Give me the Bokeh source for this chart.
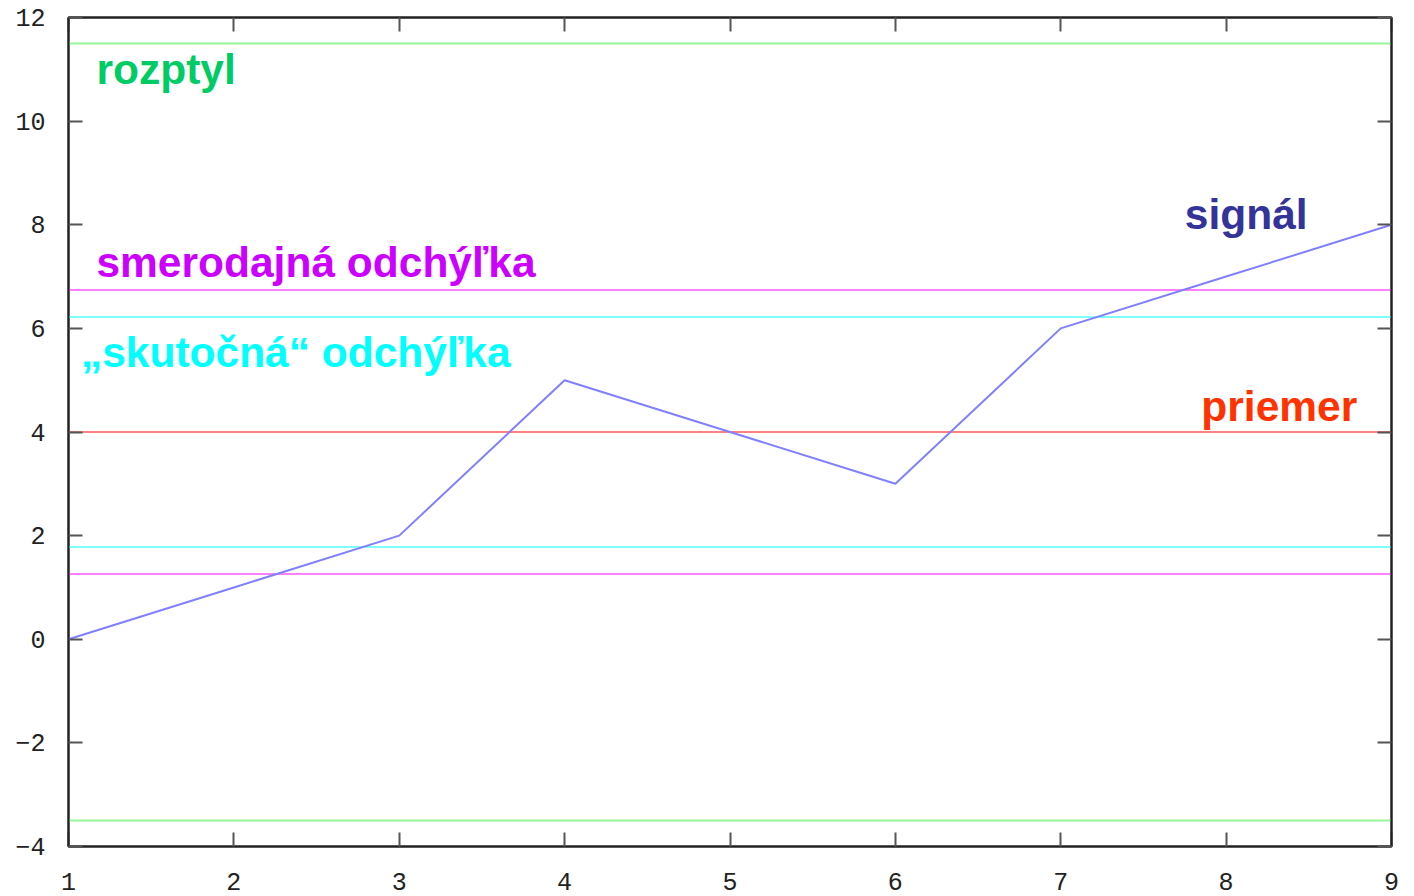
from bokeh.plotting import figure
from bokeh.models import Range1d, LinearAxis, FixedTicker, Label, CustomJSTickFormatter
from bokeh.embed import file_html
from bokeh.resources import INLINE

# data
x_vals = [1, 2, 3, 4, 5, 6, 7, 8, 9]
signal = [0, 1, 2, 5, 4, 3, 6, 7, 8]
priemer = 4.0
smer_odch = [6.74, 1.26]
skut_odch = [6.22, 1.78]
rozptyl = [11.5, -3.5]
x_ticks = [1, 2, 3, 4, 5, 6, 7, 8, 9]
y_ticks = [-4, -2, 0, 2, 4, 6, 8, 10, 12]

labels = [
    ("rozptyl", 1.169, 10.99, "#00cc66"),
    ("smerodajná odchýľka", 1.169, 7.27, "#cc00ff"),
    ("„skutočná“ odchýľka", 1.075, 5.53, "#00ffff"),
    ("signál", 7.75, 8.2, "#333399"),
    ("priemer", 7.85, 4.5, "#ff3300"),
]

p = figure(width=1414, height=896, output_backend="svg", toolbar_location=None,
           x_range=Range1d(1, 9), y_range=Range1d(-4, 12),
           min_border_left=68, min_border_right=23, min_border_top=17, min_border_bottom=50)
p.xgrid.visible = False
p.ygrid.visible = False
p.outline_line_color = "#222222"
p.outline_line_width = 2
p.background_fill_color = "white"
p.border_fill_color = "white"

for v in rozptyl:
    p.line([1, 9], [v, v], line_color="#99f599", line_width=2)
for v in smer_odch:
    p.line([1, 9], [v, v], line_color="#ff80ff", line_width=2)
for v in skut_odch:
    p.line([1, 9], [v, v], line_color="#80ffff", line_width=2)
p.line([1, 9], [priemer, priemer], line_color="#ff8080", line_width=2)
p.line(x_vals, signal, line_color="#8080ff", line_width=2)

def style(ax, ticks, show_labels):
    ax.ticker = FixedTicker(ticks=ticks)
    ax.axis_line_color = "#222222"
    ax.axis_line_width = 2
    ax.major_tick_in = 14
    ax.major_tick_out = 0
    ax.major_tick_line_color = "#555555"
    ax.major_tick_line_width = 2
    ax.minor_tick_line_color = None
    ax.major_label_text_font = "Liberation Mono"
    ax.major_label_text_font_size = "25px"
    ax.major_label_text_color = "#222222"
    if not show_labels:
        ax.formatter = CustomJSTickFormatter(code="return ''")
        ax.major_label_text_font_size = "0px"
        ax.major_label_standoff = 0

style(p.xaxis[0], x_ticks, True)
style(p.yaxis[0], y_ticks, True)
p.xaxis[0].major_label_standoff = 26
p.yaxis[0].major_label_standoff = 23

top = LinearAxis()
right = LinearAxis()
style(top, x_ticks, False)
style(right, y_ticks, False)
p.add_layout(top, "above")
p.add_layout(right, "right")

for txt, lx, ly, col in labels:
    p.add_layout(Label(x=lx, y=ly, text=txt, text_color=col,
                       text_font="Liberation Sans", text_font_style="bold",
                       text_font_size="42.5px", text_baseline="alphabetic"))

open("out.html", "w").write(file_html(p, INLINE))
